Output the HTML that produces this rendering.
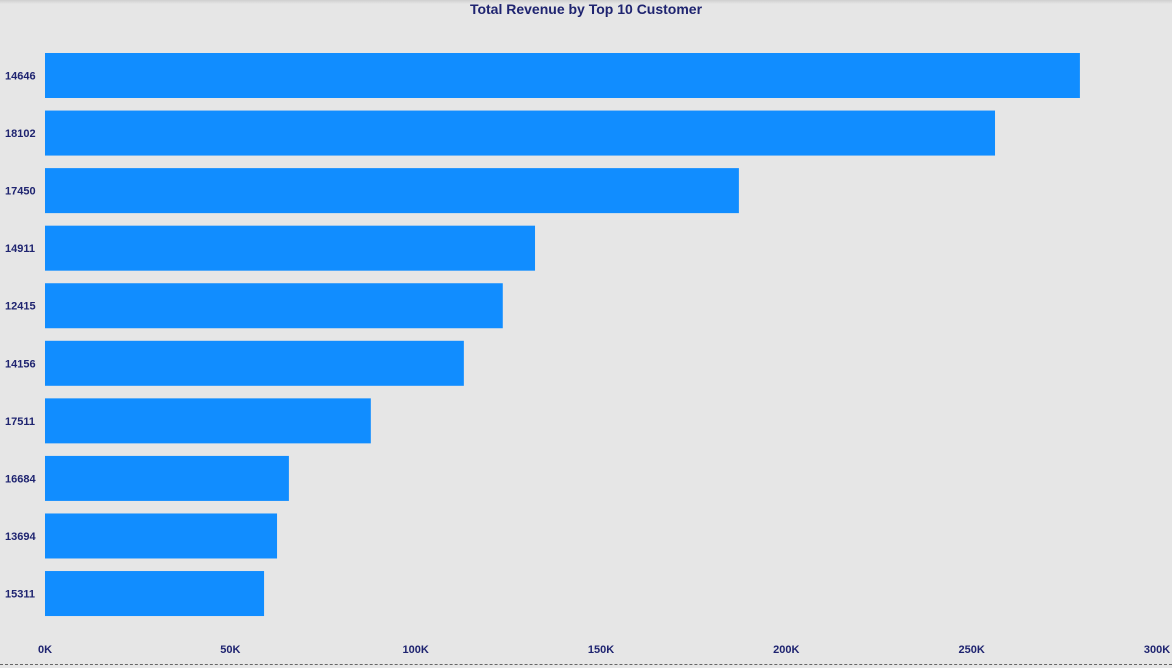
<!DOCTYPE html>
<html><head><meta charset="utf-8"><style>
html,body{margin:0;padding:0;background:#e6e6e6;}
body{width:1172px;height:668px;overflow:hidden;position:relative;font-family:"Liberation Sans",sans-serif;}
#topshade{position:absolute;left:0;top:0;width:1172px;height:4px;background:linear-gradient(#cfcfcf,#e6e6e6);}
#title{position:absolute;left:0;width:1172px;top:1px;text-align:center;font-weight:bold;font-size:14px;color:#1f2470;}
#dash{position:absolute;left:0;top:664px;width:1172px;border-top:1px dashed #666;}
</style></head><body>
<div id="topshade"></div>
<div id="title">Total Revenue by Top 10 Customer</div>
<svg id="chart" width="1172" height="668" style="position:absolute;left:0;top:0"></svg>
<div id="dash"></div>
<script>
const categories=["14646","18102","17450","14911","12415","14156","17511","16684","13694","15311"];
const revenues=[279.2,256.3,187.2,132.2,123.5,113.0,87.9,65.8,62.6,59.1];
const ticks=[0,50,100,150,200,250,300];
const tickLabels=["0K","50K","100K","150K","200K","250K","300K"];
const svg=document.getElementById('chart');
const NS='http://www.w3.org/2000/svg';
const x0=45,x1=1157,xmax=300;
const xs=v=>x0+(x1-x0)*v/xmax;
const top0=53,pitch=57.56,bh=45;
const ys=i=>top0+i*pitch;
categories.forEach((c,i)=>{
  const r=document.createElementNS(NS,'rect');
  r.setAttribute('x',xs(0));r.setAttribute('y',ys(i));
  r.setAttribute('width',xs(revenues[i])-xs(0));r.setAttribute('height',bh);
  r.setAttribute('fill','#118dff');
  
  
  svg.appendChild(r);
  const t=document.createElementNS(NS,'text');
  t.setAttribute('x',5);t.setAttribute('y',ys(i)+bh/2+4);
  t.setAttribute('font-size','11');t.setAttribute('font-weight','bold');t.setAttribute('fill','#1f2470');
  t.setAttribute('font-family','Liberation Sans, sans-serif');
  t.textContent=c;
  
  
  svg.appendChild(t);
});
ticks.forEach((v,i)=>{
  const t=document.createElementNS(NS,'text');
  t.setAttribute('x',xs(v));t.setAttribute('y',653);
  t.setAttribute('text-anchor','middle');
  t.setAttribute('font-size','11');t.setAttribute('font-weight','bold');t.setAttribute('fill','#1f2470');
  t.setAttribute('font-family','Liberation Sans, sans-serif');
  t.textContent=tickLabels[i];
  
  
  svg.appendChild(t);
});
</script>
</body></html>
